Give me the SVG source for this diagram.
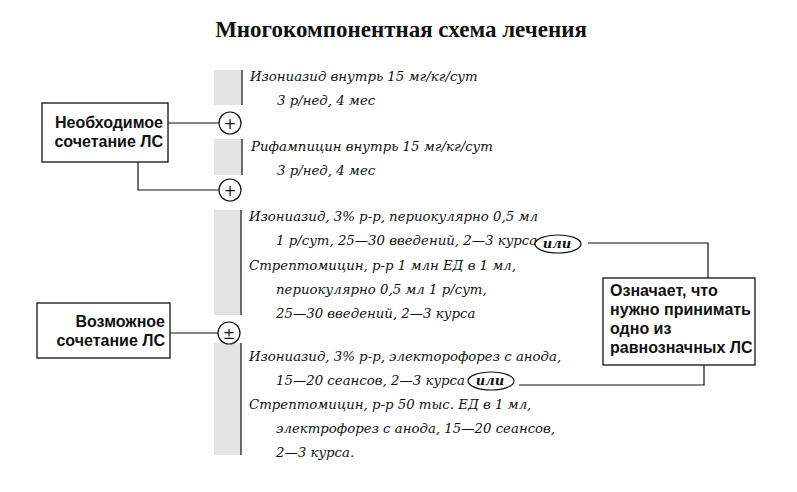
<svg xmlns="http://www.w3.org/2000/svg" width="797" height="492" viewBox="0 0 797 492">
<style>
.title{font-family:"Liberation Serif","DejaVu Serif",serif;font-weight:bold;font-size:23px;fill:#111}
.it{font-family:"DejaVu Serif","Liberation Serif",serif;font-style:italic;font-size:13.3px;fill:#111}
.lbl{font-family:"Liberation Sans",Arial,sans-serif;font-weight:bold;font-size:16px;fill:#111}
.bar{fill:#e3e3e3}
.edge{stroke:#111;stroke-width:1.2;fill:none}
.box{fill:#fff;stroke:#111;stroke-width:1.3}
.circ{fill:#fff;stroke:#111;stroke-width:1.2}
.sym{font-family:"DejaVu Sans","Liberation Sans",sans-serif;font-size:15px;fill:#111;text-anchor:middle}
.ili{font-family:"DejaVu Serif","Liberation Serif",serif;font-style:italic;font-weight:bold;font-size:13px;fill:#111;text-anchor:middle}
</style>
<rect width="797" height="492" fill="#fff"/>
<text class="title" x="401" y="37" text-anchor="middle">Многокомпонентная схема лечения</text>

<g id="connectors">
<path class="edge" d="M168 123H219"/>
<path class="edge" d="M138 162V190H219"/>
<path class="edge" d="M170 333H218"/>
<path class="edge" d="M588 243H708V278"/>
<path class="edge" d="M704 365V385H519" stroke="#777"/>
</g>

<g id="block1">
<rect class="bar" x="214" y="70" width="28" height="35"/>
<path class="edge" d="M242 70V105"/>
<text class="it" x="250" y="81">Изониазид внутрь 15 мг/кг/сут</text>
<text class="it" x="277" y="105">3 р/нед, 4 мес</text>
</g>
<g id="block2">
<rect class="bar" x="214" y="139" width="28" height="36"/>
<path class="edge" d="M242 139V175"/>
<text class="it" x="251" y="151">Рифампицин внутрь 15 мг/кг/сут</text>
<text class="it" x="277" y="175">3 р/нед, 4 мес</text>
</g>
<g id="block3">
<rect class="bar" x="214" y="210" width="27" height="105"/>
<path class="edge" d="M241 210V315"/>
<text class="it" x="249" y="221">Изониазид, 3% р-р, периокулярно 0,5 мл</text>
<text class="it" x="276" y="245">1 р/сут, 25—30 введений, 2—3 курса</text>
<text class="it" x="249" y="270">Стрептомицин, р-р 1 млн ЕД в 1 мл,</text>
<text class="it" x="276" y="294">периокулярно 0,5 мл 1 р/сут,</text>
<text class="it" x="276" y="318">25—30 введений, 2—3 курса</text>
</g>
<g id="block4">
<rect class="bar" x="214" y="343" width="27" height="112"/>
<path class="edge" d="M241 343V455"/>
<text class="it" x="249" y="361">Изониазид, 3% р-р, электорофорез с анода,</text>
<text class="it" x="276" y="385">15—20 сеансов, 2—3 курса</text>
<text class="it" x="249" y="409">Стрептомицин, р-р 50 тыс. ЕД в 1 мл,</text>
<text class="it" x="276" y="433">электрофорез с анода, 15—20 сеансов,</text>
<text class="it" x="276" y="457">2—3 курса.</text>
</g>

<g id="plus1"><circle class="circ" cx="230" cy="123" r="11"/><text class="sym" x="230" y="128.5">+</text></g>
<g id="plus2"><circle class="circ" cx="230" cy="190" r="11"/><text class="sym" x="230" y="195.5">+</text></g>
<g id="pm"><circle class="circ" cx="229" cy="333" r="11"/><text class="sym" x="229" y="338.5">±</text></g>
<g id="ili1"><ellipse class="circ" cx="558" cy="244" rx="23" ry="9"/><text class="ili" x="557" y="248">или</text></g>
<g id="ili2"><ellipse class="circ" cx="491" cy="381" rx="23" ry="9"/><text class="ili" x="490" y="385">или</text></g>

<g id="need">
<rect class="box" x="42" y="103" width="126" height="59"/>
<text class="lbl" x="163" y="128" text-anchor="end">Необходимое</text>
<text class="lbl" x="163" y="147" text-anchor="end">сочетание ЛС</text>
</g>
<g id="possible">
<rect class="box" x="37" y="303" width="133" height="55"/>
<text class="lbl" x="165" y="327" text-anchor="end">Возможное</text>
<text class="lbl" x="165" y="346" text-anchor="end">сочетание ЛС</text>
</g>
<g id="means">
<rect class="box" x="603" y="278" width="152" height="87"/>
<text class="lbl" x="610" y="296">Означает, что</text>
<text class="lbl" x="610" y="315">нужно принимать</text>
<text class="lbl" x="610" y="334">одно из</text>
<text class="lbl" x="610" y="353">равнозначных ЛС</text>
</g>
</svg>
